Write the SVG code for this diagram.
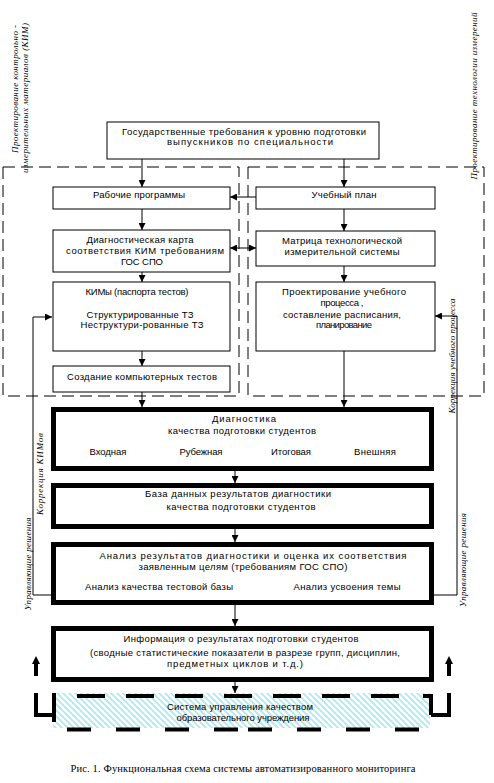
<svg xmlns="http://www.w3.org/2000/svg" width="494" height="783" viewBox="0 0 494 783">
<style>
.bg{fill:#fff}
.box{fill:#fff;stroke:#000;stroke-width:1}
.tbox{fill:#fff;stroke:#000;stroke-width:5}
.dash{fill:none;stroke:#000;stroke-width:1;stroke-dasharray:12 6}
.t{font-family:"Liberation Sans",Arial,sans-serif;font-size:9.5px;fill:#000;text-anchor:middle}
.r{font-family:"Liberation Serif","Times New Roman",serif;font-style:italic;font-size:9px;fill:#000;text-anchor:middle}
.cap{font-family:"Liberation Serif","Times New Roman",serif;font-size:10.5px;fill:#000;text-anchor:middle}
.ln{fill:none;stroke:#000;stroke-width:1}
.arr{fill:none;stroke:#000;stroke-width:1;marker-end:url(#ah)}
.thick{fill:none;stroke:#000;stroke-width:4}
</style>
<defs>
<marker id="ah" markerUnits="userSpaceOnUse" markerWidth="8" markerHeight="7" refX="7" refY="3.5" orient="auto-start-reverse">
<path d="M0,0 L7,3.5 L0,7 z" fill="#000"/>
</marker>
<pattern id="hatch" patternUnits="userSpaceOnUse" width="6" height="6">
<path d="M-1,-1 L7,7 M-1,5 L1,7 M5,-1 L7,1" stroke="#aee8f0" stroke-width="1.8"/>
</pattern>
</defs>
<rect class="bg" x="0" y="0" width="494" height="783"/>

<g id="zones">
<rect class="dash" x="3" y="167" width="236" height="229"/>
<rect class="dash" x="248" y="167" width="236" height="229"/>
<text class="r" transform="translate(18,89) rotate(-90)" textLength="128">Проектирование контрольно -</text>
<text class="r" transform="translate(28,98) rotate(-90)" textLength="150">измерительных материалов (КИМ)</text>
<text class="r" transform="translate(477,96) rotate(-90)" textLength="167">Проектирование технологии измерений</text>
</g>

<g id="connectors">
<line class="arr" x1="142" y1="159" x2="142" y2="187"/>
<line class="arr" x1="142" y1="209" x2="142" y2="230"/>
<line class="arr" x1="142" y1="272" x2="142" y2="282"/>
<line class="arr" x1="142" y1="351" x2="142" y2="366"/>
<line class="arr" x1="142" y1="392" x2="142" y2="407"/>
<line class="arr" x1="344" y1="159" x2="344" y2="187"/>
<line class="arr" x1="344" y1="209" x2="344" y2="231"/>
<line class="arr" x1="344" y1="266" x2="344" y2="282"/>
<line class="arr" x1="344" y1="351" x2="344" y2="407"/>
<line class="arr" x1="256" y1="197" x2="230" y2="197"/>
<line class="arr" x1="230" y1="248" x2="256" y2="248" style="marker-start:url(#ah)"/>
<line class="arr" x1="235" y1="471" x2="235" y2="483"/>
<line class="arr" x1="235" y1="529" x2="235" y2="542"/>
<line class="arr" x1="235" y1="605" x2="235" y2="626"/>
<line class="arr" x1="235" y1="682" x2="235" y2="693"/>
<polyline class="arr" points="227,595 33,595 33,317 52,317"/>
<polyline class="arr" points="299,595 457,595 457,316 435,316"/>
<text class="r" transform="translate(43,474) rotate(-90)" textLength="82">Коррекция КИМов</text>
<text class="r" transform="translate(455,356) rotate(-90)" textLength="115">Коррекция учебного процесса</text>
<text class="r" transform="translate(31,564) rotate(-90)" textLength="93">Управляющие решения</text>
<text class="r" transform="translate(466,560) rotate(-90)" textLength="94">Управляющие решения</text>
<rect x="34" y="663" width="4" height="13" fill="#000"/>
<polygon points="36,656 32,664 40,664" fill="#000"/>
<rect x="447" y="663" width="4" height="13" fill="#000"/>
<polygon points="449,656 445,664 453,664" fill="#000"/>
<path class="thick" d="M36,693 V715 H54"/>
<path class="thick" d="M449,693 V715 H431"/>
</g>

<g id="n-gos">
<rect class="box" x="107" y="122" width="272" height="37"/>
<text class="t" x="244" y="135" textLength="244">Государственные требования к уровню подготовки</text>
<text class="t" x="250" y="145" textLength="166">выпускников по специальности</text>
</g>

<g id="n-rp">
<rect class="box" x="53" y="187" width="177" height="22"/>
<text class="t" x="139" y="198" textLength="92">Рабочие программы</text>
</g>
<g id="n-dk">
<rect class="box" x="53" y="230" width="177" height="42"/>
<text class="t" x="140" y="243" textLength="107">Диагностическая карта</text>
<text class="t" x="145" y="254" textLength="158">соответствия КИМ требованиям</text>
<text class="t" x="142" y="265" textLength="42">ГОС СПО</text>
</g>
<g id="n-kim">
<rect class="box" x="53" y="282" width="177" height="69"/>
<text class="t" x="137" y="295" textLength="103">КИМы (паспорта тестов)</text>
<text class="t" x="140" y="318" textLength="107">Структурированные  ТЗ</text>
<text class="t" x="142" y="328" textLength="123">Неструктури-рованные ТЗ</text>
</g>
<g id="n-ct">
<rect class="box" x="53" y="366" width="177" height="26"/>
<text class="t" x="142" y="380" textLength="150">Создание компьютерных тестов</text>
</g>

<g id="n-up">
<rect class="box" x="256" y="187" width="179" height="22"/>
<text class="t" x="344" y="198" textLength="65">Учебный план</text>
</g>
<g id="n-mt">
<rect class="box" x="256" y="231" width="179" height="35"/>
<text class="t" x="342" y="244" textLength="120">Матрица технологической</text>
<text class="t" x="342" y="255" textLength="115">измерительной системы</text>
</g>
<g id="n-pr">
<rect class="box" x="256" y="282" width="179" height="69"/>
<text class="t" x="344" y="295" textLength="124">Проектирование  учебного</text>
<text class="t" x="342" y="306" textLength="43">процесса ,</text>
<text class="t" x="342" y="318" textLength="118">составление расписания,</text>
<text class="t" x="344" y="328" textLength="56">планирование</text>
</g>

<g id="n-diag">
<rect class="tbox" x="53.5" y="409.5" width="378" height="59"/>
<text class="t" x="244" y="422" textLength="64">Диагностика</text>
<text class="t" x="242" y="434" textLength="148">качества подготовки студентов</text>
<text class="t" x="108" y="455" textLength="37">Входная</text>
<text class="t" x="201" y="455" textLength="43">Рубежная</text>
<text class="t" x="291" y="455" textLength="40">Итоговая</text>
<text class="t" x="375" y="455" textLength="42">Внешняя</text>
</g>
<g id="n-db">
<rect class="tbox" x="53.5" y="485.5" width="378" height="41"/>
<text class="t" x="238" y="497" textLength="186">База данных результатов диагностики</text>
<text class="t" x="241" y="510" textLength="149">качества подготовки студентов</text>
</g>
<g id="n-an">
<rect class="tbox" x="53.5" y="544.5" width="378" height="58"/>
<text class="t" x="253" y="559" textLength="307">Анализ результатов диагностики и оценка их соответствия</text>
<text class="t" x="243" y="570" textLength="209">заявленным целям (требованиям ГОС СПО)</text>
<text class="t" x="159" y="590" textLength="148">Анализ качества тестовой базы</text>
<text class="t" x="347" y="590" textLength="107">Анализ усвоения темы</text>
</g>
<g id="n-inf">
<rect class="tbox" x="53.5" y="628.5" width="378" height="51"/>
<text class="t" x="241" y="642" textLength="235">Информация о результатах  подготовки студентов</text>
<text class="t" x="245" y="656" textLength="310">(сводные статистические показатели в разрезе групп, дисциплин,</text>
<text class="t" x="235" y="667" textLength="136">предметных циклов и т.д.)</text>
</g>
<g id="n-sys">
<rect x="53" y="693" width="377" height="35" fill="url(#hatch)"/>
<line x1="77" y1="696" x2="401" y2="696" stroke="#000" stroke-width="4" stroke-dasharray="28 21"/>
<line x1="67" y1="729.5" x2="238" y2="729.5" stroke="#000" stroke-width="4" stroke-dasharray="24 25"/>
<line x1="248" y1="729.5" x2="420" y2="729.5" stroke="#000" stroke-width="4" stroke-dasharray="24 25"/>
<line x1="54" y1="693" x2="54" y2="722" stroke="#000" stroke-width="4"/>
<path d="M423,696 H431 V715" fill="none" stroke="#000" stroke-width="4"/>
<text class="t" x="240" y="710" textLength="146">Система управления качеством</text>
<text class="t" x="243" y="721" textLength="133">образовательного учреждения</text>
</g>

<text class="cap" x="243" y="772" textLength="345">Рис. 1. Функциональная схема системы автоматизированного мониторинга</text>
</svg>
